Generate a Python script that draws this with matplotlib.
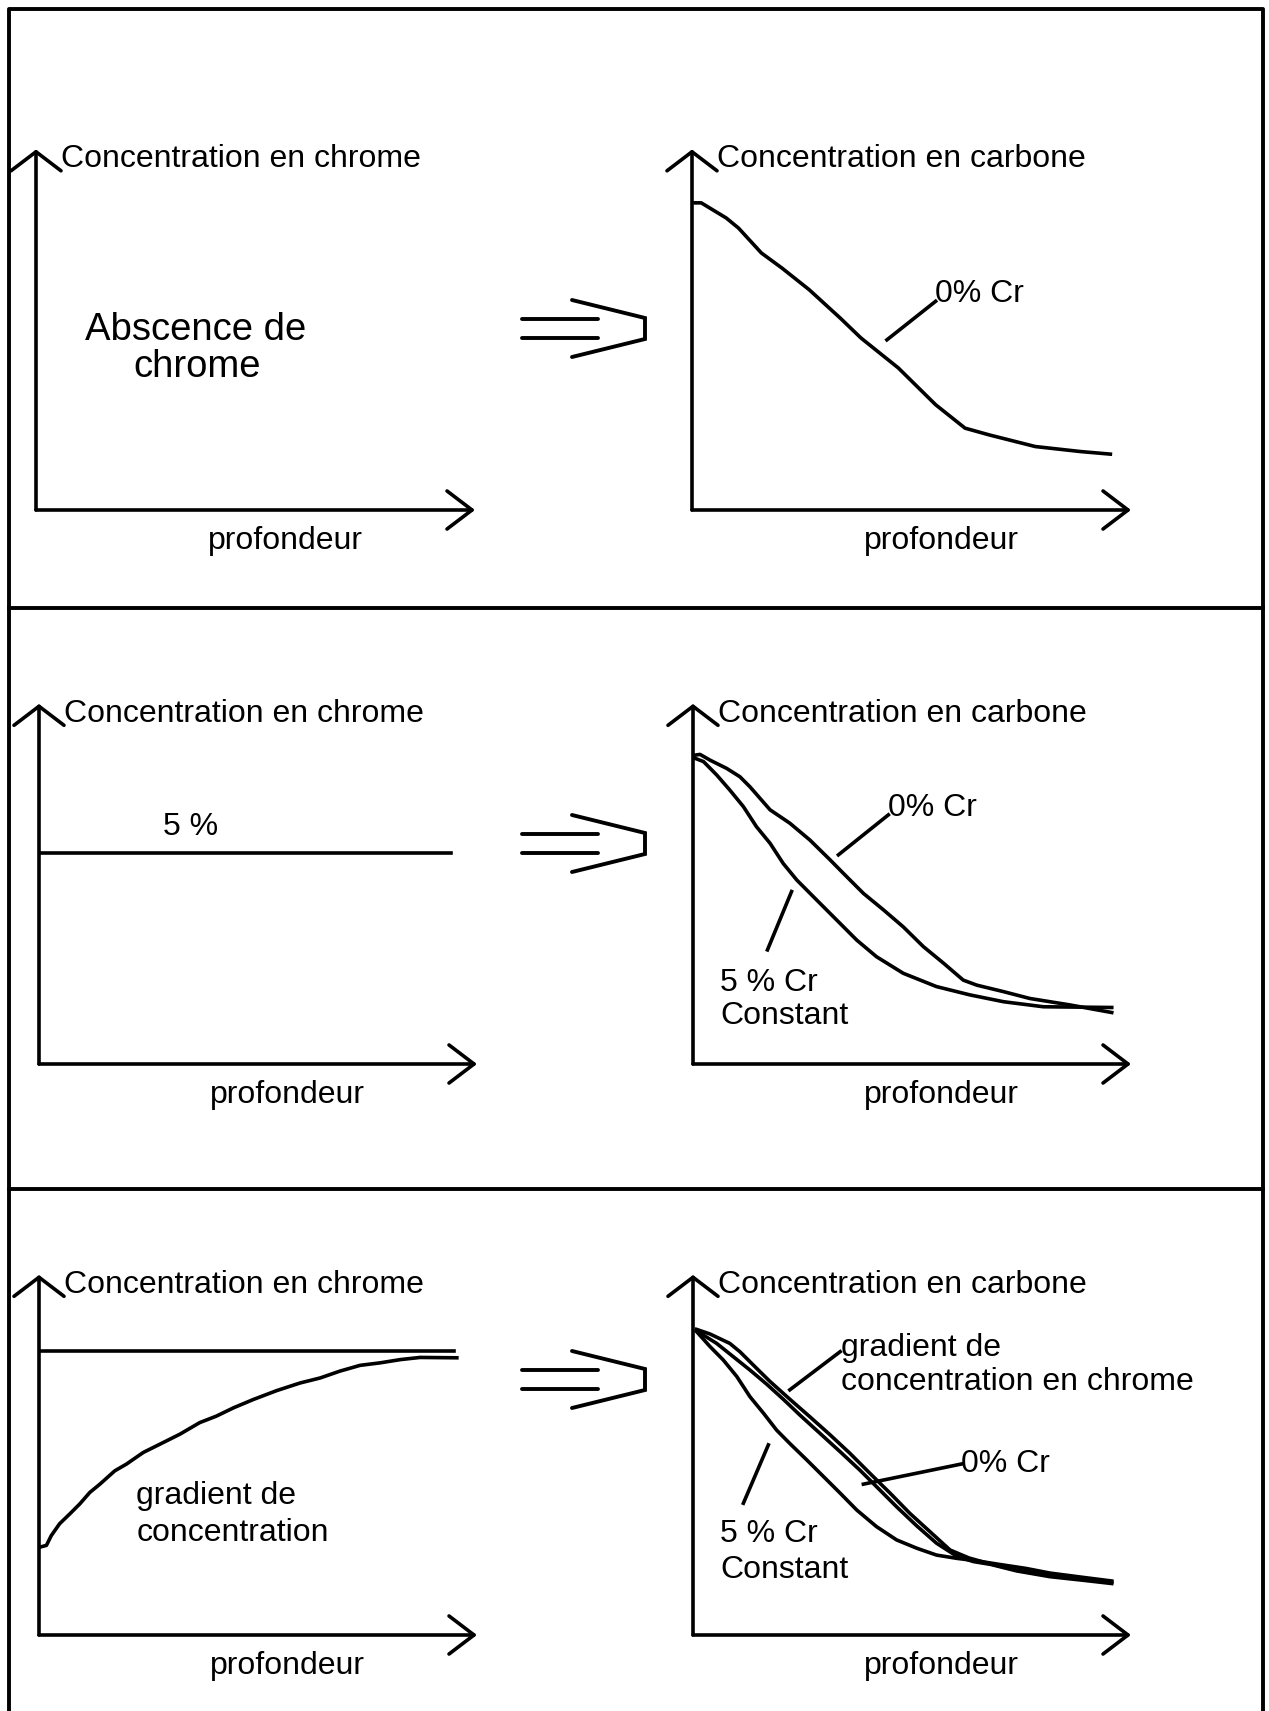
import matplotlib
matplotlib.use("Agg")
import matplotlib.pyplot as plt

plt.rcParams['font.family'] = ['Liberation Sans', 'DejaVu Sans']

# ---- data (depth and concentration as fractions of each sketch axis) ----
# row 1, carbon profile without chromium
r1_depth_0cr = [0.007, 0.021, 0.078, 0.106, 0.158, 0.205, 0.267, 0.338, 0.385, 0.470,
                0.555, 0.622, 0.678, 0.782, 0.886, 0.953]
r1_conc_0cr = [0.852, 0.852, 0.810, 0.782, 0.713, 0.671, 0.611, 0.532, 0.477, 0.394,
               0.292, 0.227, 0.208, 0.176, 0.162, 0.155]

# row 2, constant 5 % chromium
r2_cr_level = 0.586
r2_cr_end = 0.94
r2_depth_0cr = [0.005, 0.016, 0.039, 0.077, 0.107, 0.130, 0.176, 0.221, 0.267, 0.313, 0.343,
                0.389, 0.435, 0.480, 0.526, 0.572, 0.617, 0.648, 0.709, 0.769, 0.861, 0.956]
r2_conc_0cr = [0.858, 0.860, 0.844, 0.821, 0.798, 0.770, 0.706, 0.669, 0.622, 0.567, 0.530,
               0.474, 0.428, 0.381, 0.326, 0.280, 0.233, 0.219, 0.201, 0.182, 0.164, 0.143]
r2_depth_5cr = [0.005, 0.024, 0.054, 0.084, 0.115, 0.145, 0.176, 0.206, 0.237, 0.282,
                0.328, 0.374, 0.419, 0.480, 0.556, 0.632, 0.709, 0.800, 0.956]
r2_conc_5cr = [0.849, 0.840, 0.803, 0.761, 0.715, 0.659, 0.613, 0.557, 0.511, 0.456,
               0.400, 0.344, 0.298, 0.252, 0.215, 0.192, 0.173, 0.159, 0.157]

# row 3, chromium gradient
r3_cr_level = 0.788
r3_cr_end = 0.947
r3_depth_grad_cr = [0.002, 0.017, 0.028, 0.047, 0.070, 0.093, 0.116, 0.139, 0.173, 0.200,
                    0.238, 0.276, 0.322, 0.367, 0.405, 0.444, 0.489, 0.543, 0.596, 0.642,
                    0.687, 0.733, 0.779, 0.825, 0.870, 0.954]
r3_conc_grad_cr = [0.244, 0.249, 0.276, 0.309, 0.336, 0.364, 0.396, 0.419, 0.456, 0.475,
                   0.507, 0.530, 0.558, 0.590, 0.608, 0.631, 0.654, 0.679, 0.700, 0.714,
                   0.733, 0.749, 0.756, 0.765, 0.771, 0.770]
r3_depth_grad = [0.008, 0.039, 0.084, 0.107, 0.145, 0.176, 0.221, 0.267, 0.313, 0.358, 0.404,
                 0.450, 0.495, 0.541, 0.587, 0.630, 0.671, 0.739, 0.815, 0.891, 0.956]
r3_conc_grad = [0.849, 0.836, 0.810, 0.787, 0.741, 0.704, 0.655, 0.606, 0.556, 0.505, 0.449,
                0.394, 0.338, 0.287, 0.236, 0.214, 0.200, 0.180, 0.167, 0.156, 0.147]
r3_depth_0cr = [0.008, 0.054, 0.092, 0.130, 0.168, 0.206, 0.244, 0.290, 0.336, 0.381, 0.419,
                0.465, 0.511, 0.556, 0.602, 0.640, 0.680, 0.739, 0.815, 0.891, 0.956]
r3_conc_0cr = [0.845, 0.810, 0.773, 0.736, 0.697, 0.655, 0.611, 0.560, 0.509, 0.458, 0.412,
               0.356, 0.303, 0.255, 0.219, 0.204, 0.196, 0.178, 0.162, 0.152, 0.143]
r3_depth_5cr = [0.008, 0.039, 0.069, 0.100, 0.130, 0.161, 0.191, 0.221, 0.260, 0.298, 0.336,
                0.374, 0.419, 0.465, 0.511, 0.556, 0.602, 0.648, 0.700, 0.760, 0.815, 0.891, 0.956]
r3_conc_5cr = [0.843, 0.801, 0.764, 0.718, 0.662, 0.616, 0.569, 0.532, 0.486, 0.440, 0.394,
               0.347, 0.301, 0.264, 0.241, 0.222, 0.213, 0.206, 0.196, 0.185, 0.172, 0.160, 0.150]

ylabel_left = "Concentration en chrome"
ylabel_right = "Concentration en carbone"
xlabel = "profondeur"

W, H = 1269, 1711
FS = 23
LW = 2.6
DY = 0.009  # small downward nudge for text centres

fig = plt.figure(figsize=(W / 100, H / 100), dpi=100)

# background layer: outer frame, row separators and the "implies" arrows
bg = fig.add_axes([0, 0, 1, 1])
bg.set_xlim(0, W)
bg.set_ylim(H, 0)
bg.axis('off')
bg.plot([9, 9, 1263, 1263], [H, 9, 9, H], color='black', lw=2.8)
for ysep in [608, 1189]:
    bg.plot([9, 1263], [ysep, ysep], color='black', lw=2.8)

chev_x = [0, 73, 73, 0]
chev_y = [0, 18, 39, 57]
for top in [300, 815, 1351]:
    bg.plot([572 + v for v in chev_x], [top + v for v in chev_y], color='black', lw=2.8,
            solid_capstyle='round', solid_joinstyle='miter')
    for dy in [19, 38]:
        bg.plot([522, 598], [top + dy, top + dy], color='black', lw=2.8, solid_capstyle='round')


def label(ax, x, y, s, size=FS, ha='left'):
    ax.text(x, y - DY, s, fontsize=size, ha=ha, va='center')


def sketch_axes(x0, x1, ybot, ytop, ylabel):
    ax = fig.add_axes([x0 / W, 1 - ybot / H, (x1 - x0) / W, (ybot - ytop) / H])
    ax.set_xlim(0, 1)
    ax.set_ylim(0, 1)
    ax.axis('off')
    ax.patch.set_alpha(0)
    ax.annotate('', xy=(0, 1), xytext=(0, 0), xycoords='axes fraction',
                arrowprops=dict(arrowstyle='->,head_length=1.37,head_width=1.8',
                                mutation_scale=10, lw=LW, color='black',
                                shrinkA=0, shrinkB=0))
    ax.annotate('', xy=(1, 0), xytext=(0, 0), xycoords='axes fraction',
                arrowprops=dict(arrowstyle='->,head_length=1.8,head_width=1.37',
                                mutation_scale=10, lw=LW, color='black',
                                shrinkA=0, shrinkB=0))
    label(ax, 0.057, 0.982, ylabel)
    label(ax, 0.568, -0.078, xlabel, ha='center')
    return ax


def leader(ax, p0, p1):
    ax.plot([p0[0], p1[0]], [p0[1], p1[1]], color='black', lw=LW, clip_on=False)


# ---- row 1 ----
ax = sketch_axes(36, 475, 510, 149.5, ylabel_left)
label(ax, 0.364, 0.507, "Abscence de", size=27.5, ha='center')
label(ax, 0.368, 0.407, "chrome", size=27.5, ha='center')

ax = sketch_axes(692, 1131, 510, 149.5, ylabel_right)
ax.plot(r1_depth_0cr, r1_conc_0cr, color='black', lw=LW)
leader(ax, (0.444, 0.472), (0.555, 0.579))
label(ax, 0.553, 0.608, "0% Cr")

# ---- row 2 ----
ax = sketch_axes(39, 477, 1064, 704, ylabel_left)
ax.plot([0, r2_cr_end], [r2_cr_level, r2_cr_level], color='black', lw=LW)
label(ax, 0.347, 0.667, "5 %", ha='center')

ax = sketch_axes(693, 1131, 1064, 704, ylabel_right)
ax.plot(r2_depth_0cr, r2_conc_0cr, color='black', lw=LW)
ax.plot(r2_depth_5cr, r2_conc_5cr, color='black', lw=LW)
leader(ax, (0.332, 0.581), (0.446, 0.692))
label(ax, 0.446, 0.719, "0% Cr")
leader(ax, (0.225, 0.479), (0.170, 0.317))
label(ax, 0.062, 0.235, "5 % Cr")
label(ax, 0.062, 0.141, "Constant")

# ---- row 3 ----
ax = sketch_axes(39, 477, 1635, 1275, ylabel_left)
ax.plot([0, r3_cr_end], [r3_cr_level, r3_cr_level], color='black', lw=LW)
ax.plot(r3_depth_grad_cr, r3_conc_grad_cr, color='black', lw=LW)
label(ax, 0.222, 0.396, "gradient de")
label(ax, 0.222, 0.292, "concentration")

ax = sketch_axes(693, 1131, 1635, 1275, ylabel_right)
ax.plot(r3_depth_grad, r3_conc_grad, color='black', lw=LW)
ax.plot(r3_depth_0cr, r3_conc_0cr, color='black', lw=LW)
ax.plot(r3_depth_5cr, r3_conc_5cr, color='black', lw=LW)
leader(ax, (0.221, 0.681), (0.336, 0.787))
label(ax, 0.339, 0.806, "gradient de")
label(ax, 0.339, 0.713, "concentration en chrome")
leader(ax, (0.389, 0.419), (0.613, 0.475))
label(ax, 0.613, 0.484, "0% Cr")
leader(ax, (0.172, 0.528), (0.115, 0.366))
label(ax, 0.062, 0.289, "5 % Cr")
label(ax, 0.062, 0.190, "Constant")

fig.savefig('out.png', dpi=100, facecolor='white')
